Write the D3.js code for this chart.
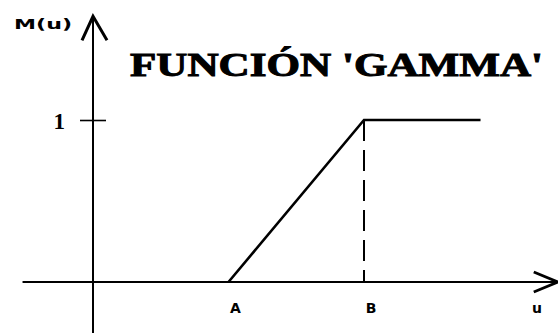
<!DOCTYPE html>
<html lang="en">

<head>
    <meta charset="UTF-8">
    <title>Función Gamma</title>
    <style>
        body {
            margin: 0;
            background: #fff;
        }

        .lbl {
            font-family: "DejaVu Sans", sans-serif;
            font-weight: bold;
        }

        .serif {
            font-family: "Liberation Serif", "DejaVu Serif", serif;
            font-weight: bold;
        }
    </style>
</head>

<body>
    <svg id="chart"></svg>

    <script src="https://d3js.org/d3.v7.min.js"></script>
    <script>
        // data
        const pointNames = ["A", "B"];
        const pointU = [1, 2];
        const gammaU = [1, 2, 2.86];
        const gammaM = [0, 1, 1];
        const yTicks = [1];
        const title = "FUNCIÓN 'GAMMA'";
        const xLabel = "u";
        const yLabel = "M(u)";

        const w = 558;
        const h = 333;

        const svg = d3.select("#chart")
            .attr("width", w)
            .attr("height", h);

        // scales
        const xScale = d3.scaleLinear()
            .domain([0, 2])
            .range([93, 364]);

        const yScale = d3.scaleLinear()
            .domain([0, 1])
            .range([282, 120]);

        const x0 = xScale(0);
        const y0 = yScale(0);

        // x axis line + arrow
        svg.append("line")
            .attr("x1", xScale(-0.52)).attr("y1", y0)
            .attr("x2", xScale(3.43)).attr("y2", y0)
            .attr("stroke", "#000").attr("stroke-width", 2);

        const xe = xScale(3.43);
        svg.append("path")
            .attr("d", `M${xe - 24},${y0 - 10} L${xe},${y0} L${xe - 24},${y0 + 10}`)
            .attr("fill", "none").attr("stroke", "#000").attr("stroke-width", 2.8);

        // y axis line + arrow
        svg.append("line")
            .attr("x1", x0).attr("y1", yScale(1.64))
            .attr("x2", x0).attr("y2", h)
            .attr("stroke", "#000").attr("stroke-width", 2);

        const ye = yScale(1.64);
        svg.append("path")
            .attr("d", `M${x0 - 11},${ye + 24} L${x0},${ye} L${x0 + 14},${ye + 24}`)
            .attr("fill", "none").attr("stroke", "#000").attr("stroke-width", 3);

        // y tick via axis
        const yAxis = d3.axisLeft(yScale)
            .tickValues(yTicks)
            .tickSize(13)
            .tickFormat(d3.format("d"));

        const gy = svg.append("g")
            .attr("transform", "translate(" + x0 + ",0)")
            .call(yAxis);
        gy.select(".domain").remove();
        gy.selectAll(".tick line")
            .attr("x1", 13)
            .attr("stroke", "#000")
            .attr("stroke-width", 1.6);
        gy.selectAll(".tick text")
            .attr("class", "serif")
            .attr("x", -28)
            .attr("dy", "0.36em")
            .attr("font-size", 23)
            .attr("fill", "#000");

        // x labels A, B
        svg.selectAll(".ptlbl")
            .data(pointNames)
            .enter()
            .append("text")
            .attr("class", "lbl")
            .attr("x", (d, i) => xScale(pointU[i]) + 7)
            .attr("y", 313)
            .attr("text-anchor", "middle")
            .attr("font-size", 14)
            .text(d => d);

        svg.append("text")
            .attr("class", "lbl")
            .attr("x", 537)
            .attr("y", 313)
            .attr("text-anchor", "middle")
            .attr("font-size", 14)
            .text(xLabel);

        svg.append("text")
            .attr("class", "lbl")
            .attr("x", 14)
            .attr("y", 29)
            .attr("font-size", 14)
            .attr("textLength", 58)
            .attr("lengthAdjust", "spacingAndGlyphs")
            .text(yLabel);

        // dashed line at B
        svg.append("line")
            .attr("x1", xScale(pointU[1])).attr("y1", yScale(1))
            .attr("x2", xScale(pointU[1])).attr("y2", y0)
            .attr("stroke", "#000").attr("stroke-width", 2)
            .attr("stroke-dasharray", "21,9");

        // gamma function
        const gamma = gammaU.map((u, i) => [u, gammaM[i]]);
        const line = d3.line()
            .x(d => xScale(d[0]))
            .y(d => yScale(d[1]));

        svg.append("path")
            .datum(gamma)
            .attr("d", line)
            .attr("fill", "none")
            .attr("stroke", "#000")
            .attr("stroke-width", 2.6);

        // title
        svg.append("text")
            .attr("class", "serif")
            .attr("x", 130)
            .attr("y", 76)
            .attr("font-size", 34)
            .attr("stroke", "#000")
            .attr("stroke-width", 1)
            .attr("textLength", 413)
            .attr("lengthAdjust", "spacingAndGlyphs")
            .text(title);
    </script>
</body>

</html>
